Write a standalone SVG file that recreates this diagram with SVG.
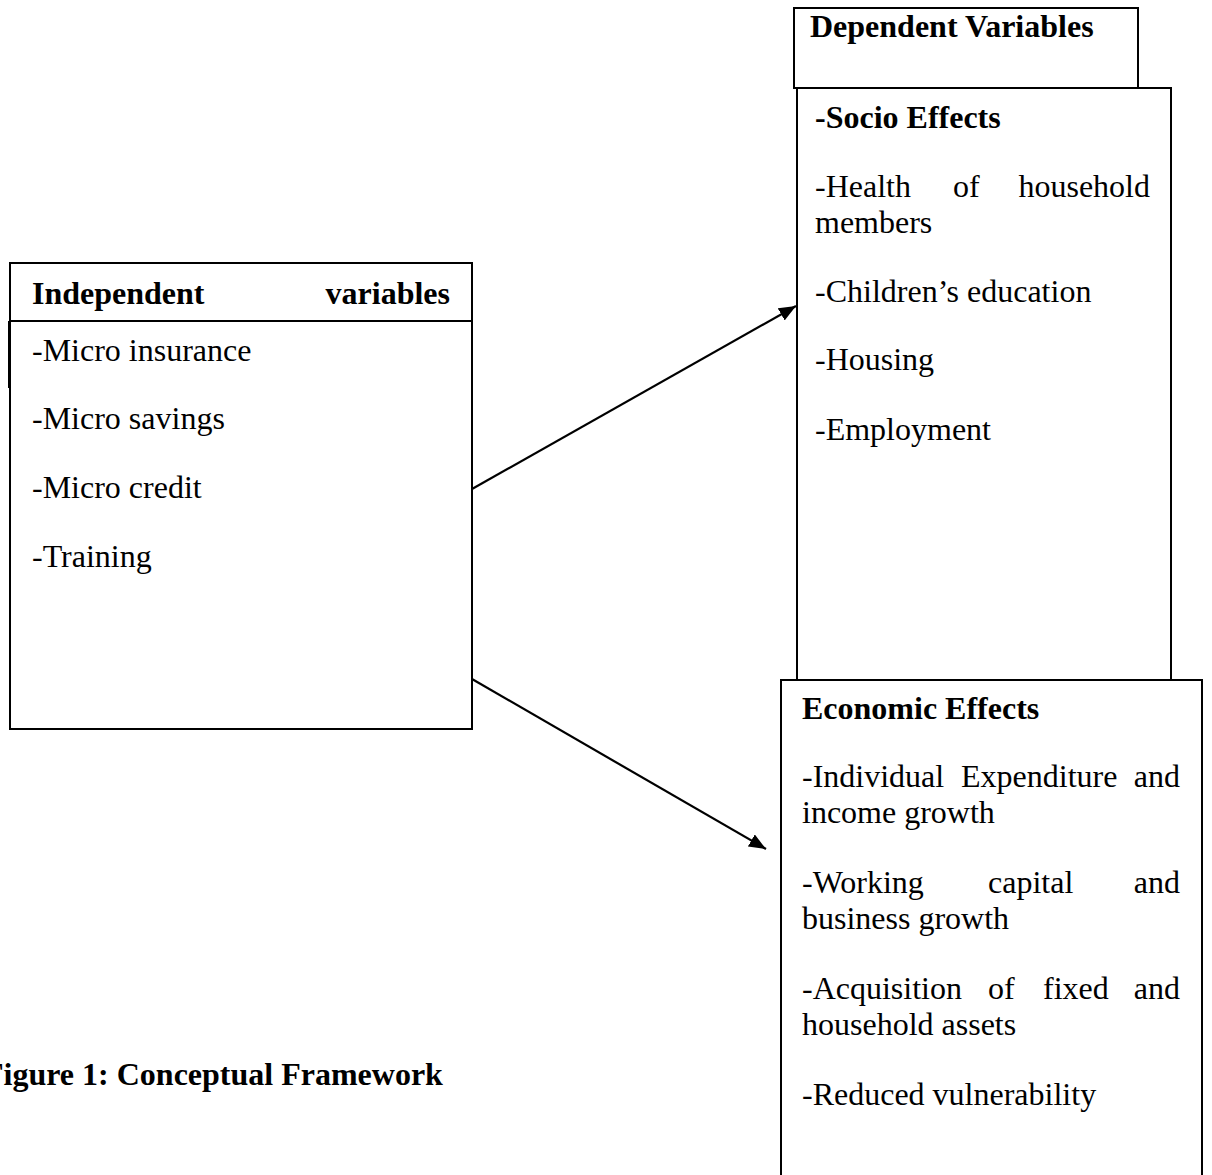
<svg xmlns="http://www.w3.org/2000/svg" width="1212" height="1175" viewBox="0 0 1212 1175">
  <style>
    .box { fill: #ffffff; stroke: #000000; stroke-width: 2; }
    .edge { fill: none; stroke: #000000; stroke-width: 2; }
    text { font-family: "Liberation Serif", "Times New Roman", serif; font-size: 32px; fill: #000000; }
    .b { font-weight: bold; }
    .end { text-anchor: end; }
    .conn { stroke: #000000; stroke-width: 2.2; fill: none; marker-end: url(#head); }
  </style>
  <defs>
    <marker id="head" markerUnits="userSpaceOnUse" markerWidth="18" markerHeight="14" refX="17" refY="7" orient="auto">
      <path d="M0,0 L17,7 L0,14 z" fill="#000000"/>
    </marker>
  </defs>
  <rect width="1212" height="1175" fill="#ffffff"/>

  <!-- Independent variables -->
  <g id="independent">
    <rect class="box" x="10" y="263" width="462" height="466"/>
    <line class="edge" x1="10" y1="321" x2="472" y2="321"/>
    <line class="edge" x1="9" y1="321" x2="9" y2="388"/>
    <text class="b" x="32" y="304">Independent</text>
    <text class="b end" x="450" y="304">variables</text>
    <text x="32" y="361">-Micro insurance</text>
    <text x="32" y="429">-Micro savings</text>
    <text x="32" y="498">-Micro credit</text>
    <text x="32" y="567">-Training</text>
  </g>

  <!-- Dependent variables heading -->
  <g id="dependent">
    <rect class="box" x="794" y="8" width="344" height="80"/>
    <text class="b" x="810" y="37">Dependent Variables</text>
  </g>

  <!-- Socio effects -->
  <g id="socio">
    <rect class="box" x="797" y="88" width="374" height="592"/>
    <text class="b" x="815" y="128">-Socio Effects</text>
    <text x="815" y="197">-Health</text>
    <text x="953" y="197">of</text>
    <text class="end" x="1150" y="197">household</text>
    <text x="815" y="233">members</text>
    <text x="815" y="302">-Children’s education</text>
    <text x="815" y="370">-Housing</text>
    <text x="815" y="440">-Employment</text>
  </g>

  <!-- Economic effects -->
  <g id="economic">
    <rect class="box" x="781" y="680" width="421" height="520"/>
    <text class="b" x="802" y="719">Economic Effects</text>
    <text x="802" y="787">-Individual</text>
    <text x="961" y="787">Expenditure</text>
    <text class="end" x="1180" y="787">and</text>
    <text x="802" y="823">income growth</text>
    <text x="802" y="893">-Working</text>
    <text x="988" y="893">capital</text>
    <text class="end" x="1180" y="893">and</text>
    <text x="802" y="929">business growth</text>
    <text x="802" y="999">-Acquisition</text>
    <text x="988" y="999">of</text>
    <text x="1043" y="999">fixed</text>
    <text class="end" x="1180" y="999">and</text>
    <text x="802" y="1035">household assets</text>
    <text x="802" y="1105">-Reduced vulnerability</text>
  </g>

  <!-- Connectors -->
  <g id="connectors">
    <line class="conn" x1="472" y1="489" x2="796" y2="306"/>
    <line class="conn" x1="472" y1="679" x2="766" y2="849"/>
  </g>

  <!-- Caption -->
  <g id="caption">
    <text class="b" x="-16" y="1085">Figure 1: Conceptual Framework</text>
  </g>
</svg>
